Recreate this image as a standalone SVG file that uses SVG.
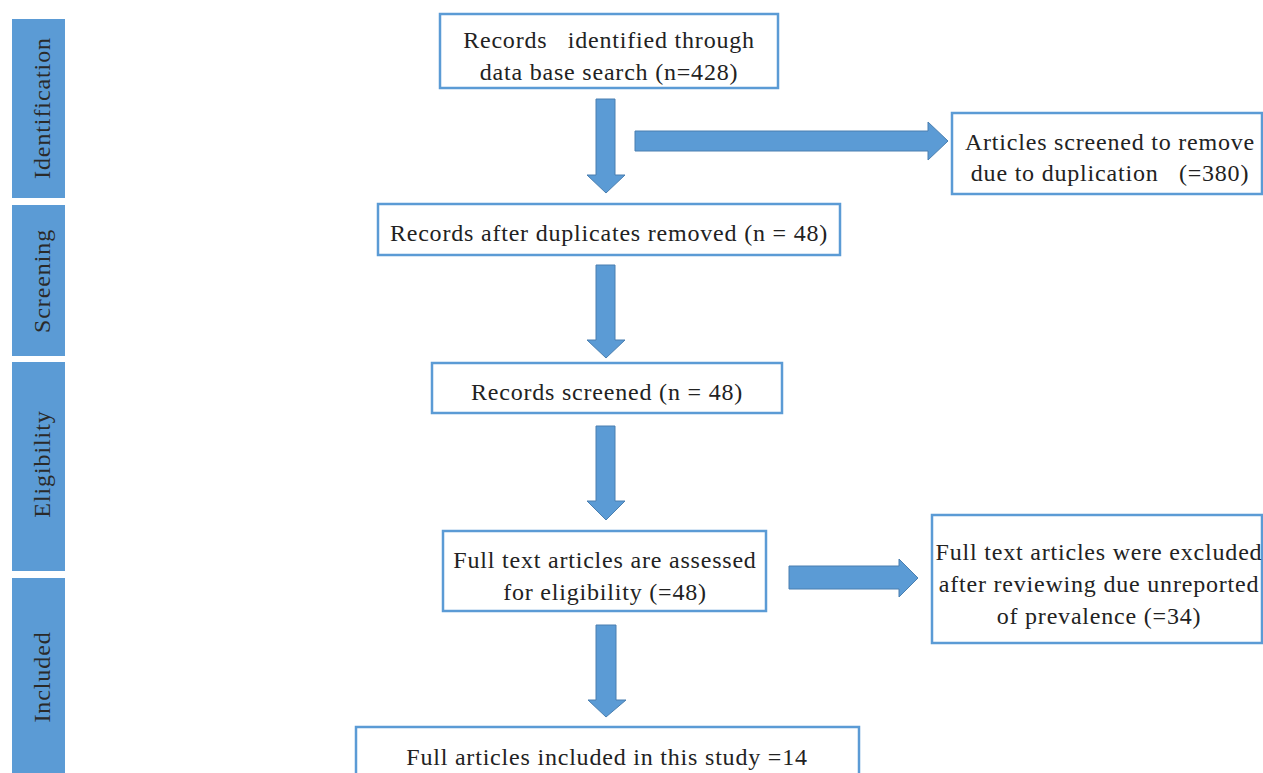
<svg xmlns="http://www.w3.org/2000/svg" width="1263" height="773" viewBox="0 0 1263 773">
<style>
.bar{fill:#5b9bd5}
.bt{font-family:"Liberation Serif",serif;font-size:24px;letter-spacing:0.9px;fill:#2a2a2a;text-anchor:middle;dominant-baseline:central}
.box{fill:#fff;stroke:#5b9bd5;stroke-width:2.5}
.t{font-family:"Liberation Serif",serif;font-size:24px;letter-spacing:0.8px;fill:#222;text-anchor:middle;dominant-baseline:central;white-space:pre}
.arr{fill:#5b9bd5;stroke:#4a7fb0;stroke-width:1}
</style>
<rect width="1263" height="773" fill="#fff"/>
<g id="phase-identification"><rect class="bar" x="12" y="19" width="53" height="179"/><text class="bt" transform="translate(42,108) rotate(-90)">Identification</text></g>
<g id="phase-screening"><rect class="bar" x="12" y="205" width="53" height="151"/><text class="bt" transform="translate(42,281) rotate(-90)">Screening</text></g>
<g id="phase-eligibility"><rect class="bar" x="12" y="362" width="53" height="209"/><text class="bt" transform="translate(42,464) rotate(-90)">Eligibility</text></g>
<g id="phase-included"><rect class="bar" x="12" y="578" width="53" height="200"/><text class="bt" transform="translate(42,677) rotate(-90)">Included</text></g>

<g id="connectors">
<polygon class="arr" points="596,99 615,99 615,175 625,175 606,193 587,175 596,175"/>
<polygon class="arr" points="635,131 928,131 928,122 948,141 928,160 928,151 635,151"/>
<polygon class="arr" points="596,265 615,265 615,340 625,340 606,358 587,340 596,340"/>
<polygon class="arr" points="596,426 615,426 615,501 625,501 606,520 587,501 596,501"/>
<polygon class="arr" points="789,566 899,566 899,559 918,578 899,597 899,589 789,589"/>
<polygon class="arr" points="596,625 616,625 616,700 626,700 606,717 588,700 596,700"/>
</g>

<g id="n1"><rect class="box" x="440" y="14" width="338" height="74"/><text class="t" x="609" y="40" xml:space="preserve">Records   identified through</text><text class="t" x="609" y="72">data base search (n=428)</text></g>
<g id="n2"><rect class="box" x="952" y="113" width="310" height="81"/><text class="t" x="1110" y="142">Articles screened to remove</text><text class="t" x="1110" y="173" xml:space="preserve">due to duplication   (=380)</text></g>
<g id="n3"><rect class="box" x="378" y="204" width="462" height="51"/><text class="t" x="609" y="233">Records after duplicates removed (n = 48)</text></g>
<g id="n4"><rect class="box" x="432" y="363" width="350" height="50"/><text class="t" x="607" y="392">Records screened (n = 48)</text></g>
<g id="n5"><rect class="box" x="443" y="531" width="323" height="80"/><text class="t" x="605" y="560">Full text articles are assessed</text><text class="t" x="605" y="592">for eligibility (=48)</text></g>
<g id="n6"><rect class="box" x="932" y="515" width="330" height="128"/><text class="t" x="1099" y="552">Full text articles were excluded</text><text class="t" x="1099" y="584">after reviewing due unreported</text><text class="t" x="1099" y="616">of prevalence (=34)</text></g>
<g id="n7"><rect class="box" x="356" y="727" width="503" height="60"/><text class="t" x="607" y="757">Full articles included in this study =14</text></g>
</svg>
